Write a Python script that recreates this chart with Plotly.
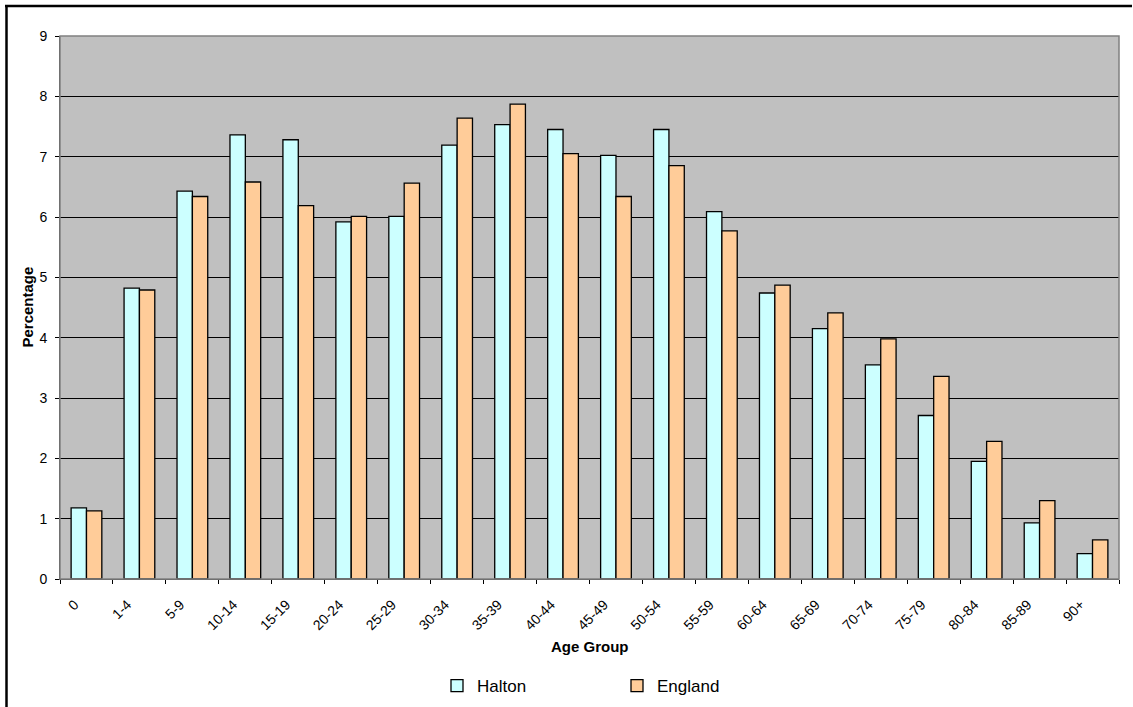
import plotly.graph_objects as go

age_groups = ["0", "1-4", "5-9", "10-14", "15-19", "20-24", "25-29", "30-34", "35-39",
              "40-44", "45-49", "50-54", "55-59", "60-64", "65-69", "70-74", "75-79",
              "80-84", "85-89", "90+"]
halton = [1.18, 4.82, 6.43, 7.36, 7.28, 5.92, 6.01, 7.19, 7.53, 7.45, 7.02, 7.45,
          6.09, 4.74, 4.15, 3.55, 2.71, 1.95, 0.93, 0.42]
england = [1.13, 4.79, 6.34, 6.58, 6.19, 6.01, 6.56, 7.64, 7.87, 7.05, 6.34, 6.85,
           5.77, 4.87, 4.41, 3.98, 3.36, 2.28, 1.30, 0.65]

W, H = 1133, 707
L, R, T, B = 60, 14, 36, 128
pw, ph = W - L - R, H - T - B

font = "Liberation Sans, Arial, sans-serif"

fig = go.Figure()
fig.add_trace(go.Bar(x=age_groups, y=halton, name="Halton",
                     marker=dict(color="#CCFFFF", line=dict(color="black", width=1.3))))
fig.add_trace(go.Bar(x=age_groups, y=england, name="England",
                     marker=dict(color="#FFCC99", line=dict(color="black", width=1.3))))


def px_x(x):
    return (x - L) / pw


def px_y(y):
    return (H - B - y) / ph


fig.update_layout(
    width=W, height=H,
    margin=dict(l=L, r=R, t=T, b=B, autoexpand=False),
    paper_bgcolor="white",
    plot_bgcolor="#C0C0C0",
    barmode="group",
    bargap=0.42,
    bargroupgap=0,
    font=dict(family=font, size=13, color="black"),
    showlegend=True,
    legend=dict(orientation="h", x=px_x(437), xanchor="left", y=px_y(686), yanchor="middle",
                font=dict(size=17, family=font), entrywidth=135, entrywidthmode="pixels",
                bgcolor="rgba(0,0,0,0)"),
    xaxis=dict(type="category", tickson="boundaries", ticks="outside", ticklen=4,
               tickcolor="black", tickangle=-45, showgrid=False, showline=True,
               linecolor="#404040", linewidth=1, tickfont=dict(size=14),
               ticklabelshift=-12, ticklabelstandoff=11, automargin=False),
    yaxis=dict(range=[0, 9], dtick=1, ticks="outside", ticklen=4, tickcolor="black",
               showgrid=True, gridcolor="black", gridwidth=1, zeroline=False,
               showline=True, linecolor="#404040", linewidth=1,
               tickfont=dict(size=14), ticklabelstandoff=5, automargin=False),
    annotations=[
        dict(text="<b>Age Group</b>", x=0.5, y=px_y(646), xref="paper", yref="paper",
             showarrow=False, font=dict(size=15, family=font), xanchor="center", yanchor="middle"),
        dict(text="<b>Percentage</b>", x=px_x(27), y=0.5, xref="paper", yref="paper",
             showarrow=False, textangle=-90, font=dict(size=15, family=font),
             xanchor="center", yanchor="middle"),
    ],
    shapes=[
        dict(type="rect", xref="paper", yref="paper", x0=0, y0=0, x1=1, y1=1,
             line=dict(color="#808080", width=1.5), layer="above"),
        dict(type="line", xref="paper", yref="paper", x0=px_x(5), x1=px_x(1132),
             y0=px_y(6), y1=px_y(6), line=dict(color="black", width=2.5)),
        dict(type="line", xref="paper", yref="paper", x0=px_x(6.5), x1=px_x(6.5),
             y0=px_y(5), y1=px_y(708), line=dict(color="black", width=2.5)),
    ],
)

fig.write_html("out.html", config={"displayModeBar": False},
               post_script="document.body.style.margin='0';")
